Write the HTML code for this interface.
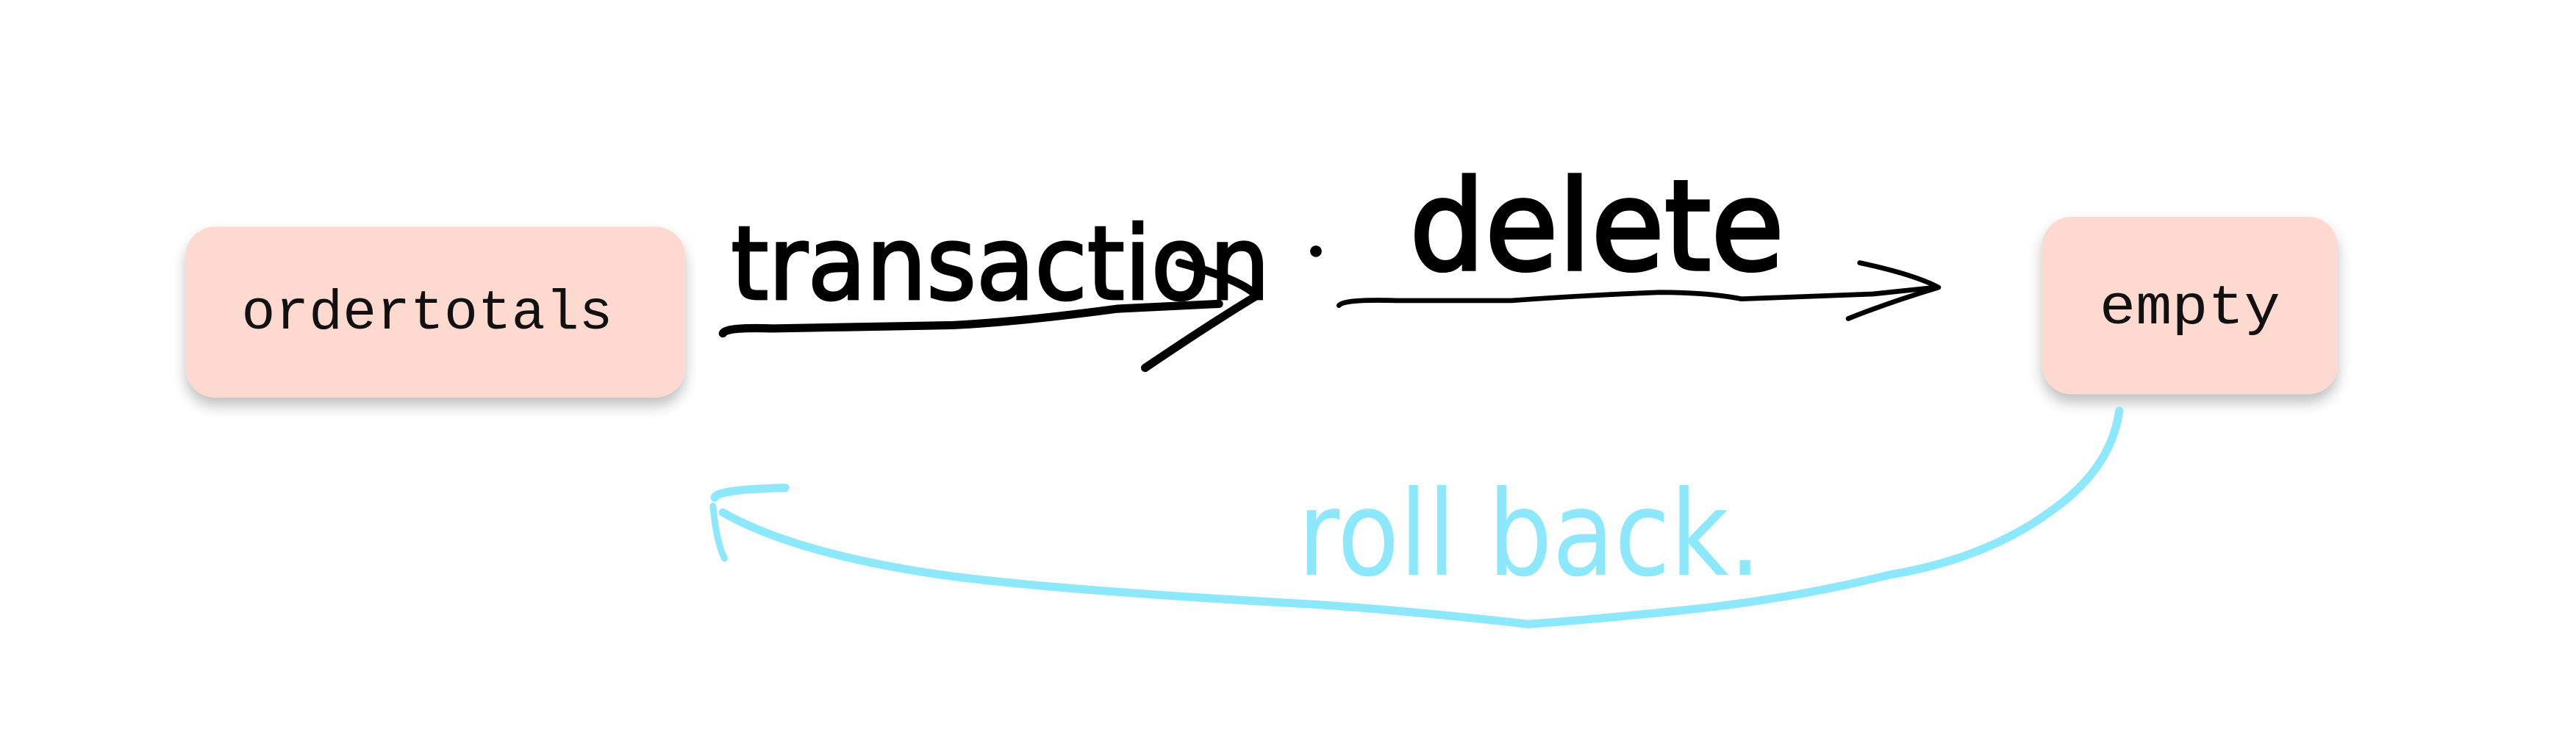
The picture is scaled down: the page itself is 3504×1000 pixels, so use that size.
<!DOCTYPE html>
<html><head><meta charset="utf-8"><style>
html,body{margin:0;padding:0;background:#fff;}
svg{display:block}
</style></head><body>
<svg width="3504" height="1000" viewBox="0 0 1568 447.5" preserveAspectRatio="none">
<defs>
<filter id="sh" x="-20%" y="-20%" width="140%" height="160%"><feDropShadow dx="0" dy="5" stdDeviation="4" flood-color="#000" flood-opacity="0.25"/></filter>
</defs>
<g>
<rect x="113" y="138" width="304" height="104" rx="18" fill="#fdd9d0" filter="url(#sh)"/>
<text x="260" y="200" text-anchor="middle" font-family="Liberation Mono, monospace" font-size="34" fill="#111" textLength="226" lengthAdjust="spacingAndGlyphs">ordertotals</text>
</g>
<g>
<rect x="1243" y="132" width="180" height="108" rx="18" fill="#fdd9d0" filter="url(#sh)"/>
<text x="1333" y="197" text-anchor="middle" font-family="Liberation Mono, monospace" font-size="34" fill="#111" textLength="110" lengthAdjust="spacingAndGlyphs">empty</text>
</g>
<g fill="none" stroke="#000" stroke-linecap="round" stroke-linejoin="round">
<path d="M440 203 Q442 199 470 200 L580 198 Q620 196 680 188 L742 185" stroke-width="5"/>
<path d="M718 160 Q755 170 765 180 Q740 195 697 224" stroke-width="5"/>
</g>
<text x="445" y="182" font-family="DejaVu Sans, sans-serif" font-size="62" fill="#000" stroke="#000" stroke-width="1.5" textLength="328" lengthAdjust="spacingAndGlyphs">transaction</text>
<circle cx="801" cy="153" r="3.5" fill="#000"/>
<g fill="none" stroke="#000" stroke-linecap="round" stroke-linejoin="round">
<path d="M815 186 Q818 182 850 183 L920 183 Q960 180 1010 178 Q1040 178 1060 182 L1140 179 L1178 175" stroke-width="3"/>
<path d="M1132 160 Q1165 167 1180 175 Q1150 184 1125 194" stroke-width="3"/>
</g>
<text x="858" y="164" font-family="DejaVu Sans, sans-serif" font-size="76" fill="#000" stroke="#000" stroke-width="2" textLength="228" lengthAdjust="spacingAndGlyphs">delete</text>
<g fill="none" stroke="#8de8fb" stroke-linecap="round" stroke-linejoin="round">
<path d="M1290 250 Q1285 285 1250 310 Q1210 340 1150 350 Q1090 365 1020 372 Q960 378 930 380 Q860 372 800 368 Q620 358 560 348 Q480 335 440 312" stroke-width="5"/>
<path d="M435 303 Q436 298 478 297" stroke-width="5"/>
<path d="M434 308 Q436 330 441 340" stroke-width="4"/>
</g>
<text x="790" y="350" font-family="DejaVu Sans, sans-serif" font-size="72" fill="#8de8fb" textLength="282" lengthAdjust="spacingAndGlyphs">roll back.</text>
</svg>
</body></html>
